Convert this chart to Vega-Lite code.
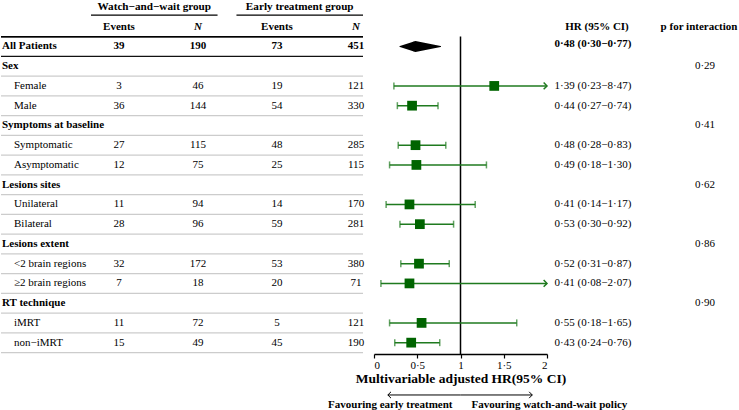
{
  "$schema": "https://vega.github.io/schema/vega-lite/v6.json",
  "padding": 0,
  "autosize": {"type": "pad"},
  "spacing": 11,
  "bounds": "flush",
  "config": {"view": {"stroke": null}, "font": "Liberation Serif", "text": {"font": "Liberation Serif", "color": "black", "fontSize": 11},
    "axisX": {"values": [0, 0.5, 1, 1.5, 2], "labelExpr": "replace(format(datum.value, '~g'), '.', '·')", "grid": false, "tickSize": 4, "tickColor": "black", "domainColor": "black", "domainWidth": 1.5, "tickWidth": 1.2,
      "labelFont": "Liberation Serif", "labelFontSize": 11, "labelColor": "black", "labelPadding": 1,
      "titleFont": "Liberation Serif", "titleFontSize": 13.5, "titleFontWeight": "bold", "titleColor": "black", "titlePadding": 1}},
  "datasets": {
    "rows": [
      {"row": 2, "kind": "overall", "label": "All Patients", "ww_e": 39, "ww_n": 190, "et_e": 73, "et_n": 451, "hr": 0.48, "lo": 0.30, "hi": 0.77, "ci": "0·48 (0·30−0·77)"},
      {"row": 3, "kind": "group", "label": "Sex", "p": "0·29"},
      {"row": 4, "kind": "sub", "label": "Female", "ww_e": 3, "ww_n": 46, "et_e": 19, "et_n": 121, "hr": 1.39, "lo": 0.23, "hi": 8.47, "ci": "1·39 (0·23−8·47)"},
      {"row": 5, "kind": "sub", "label": "Male", "ww_e": 36, "ww_n": 144, "et_e": 54, "et_n": 330, "hr": 0.44, "lo": 0.27, "hi": 0.74, "ci": "0·44 (0·27−0·74)"},
      {"row": 6, "kind": "group", "label": "Symptoms at baseline", "p": "0·41"},
      {"row": 7, "kind": "sub", "label": "Symptomatic", "ww_e": 27, "ww_n": 115, "et_e": 48, "et_n": 285, "hr": 0.48, "lo": 0.28, "hi": 0.83, "ci": "0·48 (0·28−0·83)"},
      {"row": 8, "kind": "sub", "label": "Asymptomatic", "ww_e": 12, "ww_n": 75, "et_e": 25, "et_n": 115, "hr": 0.49, "lo": 0.18, "hi": 1.30, "ci": "0·49 (0·18−1·30)"},
      {"row": 9, "kind": "group", "label": "Lesions sites", "p": "0·62"},
      {"row": 10, "kind": "sub", "label": "Unilateral", "ww_e": 11, "ww_n": 94, "et_e": 14, "et_n": 170, "hr": 0.41, "lo": 0.14, "hi": 1.17, "ci": "0·41 (0·14−1·17)"},
      {"row": 11, "kind": "sub", "label": "Bilateral", "ww_e": 28, "ww_n": 96, "et_e": 59, "et_n": 281, "hr": 0.53, "lo": 0.30, "hi": 0.92, "ci": "0·53 (0·30−0·92)"},
      {"row": 12, "kind": "group", "label": "Lesions extent", "p": "0·86"},
      {"row": 13, "kind": "sub", "label": "<2 brain regions", "ww_e": 32, "ww_n": 172, "et_e": 53, "et_n": 380, "hr": 0.52, "lo": 0.31, "hi": 0.87, "ci": "0·52 (0·31−0·87)"},
      {"row": 14, "kind": "sub", "label": "≥2 brain regions", "ww_e": 7, "ww_n": 18, "et_e": 20, "et_n": 71, "hr": 0.41, "lo": 0.08, "hi": 2.07, "ci": "0·41 (0·08−2·07)"},
      {"row": 15, "kind": "group", "label": "RT technique", "p": "0·90"},
      {"row": 16, "kind": "sub", "label": "iMRT", "ww_e": 11, "ww_n": 72, "et_e": 5, "et_n": 121, "hr": 0.55, "lo": 0.18, "hi": 1.65, "ci": "0·55 (0·18−1·65)"},
      {"row": 17, "kind": "sub", "label": "non−iMRT", "ww_e": 15, "ww_n": 49, "et_e": 45, "et_n": 190, "hr": 0.43, "lo": 0.24, "hi": 0.76, "ci": "0·43 (0·24−0·76)"}
    ],
    "groups": [
      {"row": 0, "grp": "Watch−and−wait group"},
      {"row": 0, "grp": "Early treatment group"}
    ],
    "colheads": [
      {"row": 1, "col": "ww_e", "text": "Events"},
      {"row": 1, "col": "ww_n", "text": "N"},
      {"row": 1, "col": "et_e", "text": "Events"},
      {"row": 1, "col": "et_n", "text": "N"}
    ],
    "rightheads": [
      {"row": 1, "col": "hr", "text": "HR (95% CI)"},
      {"row": 1, "col": "p", "text": "p for interaction"}
    ],
    "notes": [
      {"row": 19.65, "trow": 20.15, "side": "left", "from": 1, "to": 0.16, "text": "Favouring early treatment"},
      {"row": 19.65, "trow": 20.15, "side": "right", "from": 1, "to": 1.83, "text": "Favouring watch-and-wait policy"}
    ]
  },
  "hconcat": [
    {
      "width": 362,
      "height": 352,
      "resolve": {"scale": {"x": "independent"}, "axis": {"x": "independent"}},
      "layer": [
        {
          "data": {"name": "rows"},
          "mark": {"type": "rule", "yOffset": 9.9, "strokeWidth": 1.2},
          "encoding": {
            "y": {"field": "row", "type": "quantitative", "scale": {"domain": [-0.25, 17.575], "reverse": true, "nice": false, "zero": false}, "axis": null},
            "color": {"condition": {"test": "datum.row < 3", "value": "#111111"}, "value": "#cccccc"}
          }
        },
        {
          "data": {"name": "colheads"},
          "mark": {"type": "rule", "yOffset": 9.9, "strokeWidth": 1.3, "color": "black"},
          "encoding": {
            "y": {"field": "row", "type": "quantitative", "axis": null}
          }
        },
        {
          "data": {"name": "rows"},
          "transform": [{"filter": "datum.kind !== 'sub'"}],
          "mark": {"type": "text", "align": "left", "fontWeight": "bold", "dx": -38},
          "encoding": {
            "x": {"datum": "label", "scale": {"type": "point", "padding": 0, "domain": ["label", "ww_e", "ww_n", "et_e", "et_n"], "range": [39, 355]}, "axis": null},
            "y": {"field": "row", "type": "quantitative", "axis": null},
            "text": {"field": "label"}
          }
        },
        {
          "data": {"name": "rows"},
          "transform": [{"filter": "datum.kind === 'sub'"}],
          "mark": {"type": "text", "align": "left", "dx": -26},
          "encoding": {
            "x": {"datum": "label", "scale": {"type": "point", "padding": 0, "domain": ["label", "ww_e", "ww_n", "et_e", "et_n"], "range": [39, 355]}, "axis": null},
            "y": {"field": "row", "type": "quantitative", "axis": null},
            "text": {"field": "label"}
          }
        },
        {
          "data": {"name": "rows"},
          "transform": [{"filter": "datum.kind === 'sub'"}, {"fold": ["ww_e", "ww_n", "et_e", "et_n"], "as": ["col", "val"]}],
          "mark": {"type": "text", "align": "center"},
          "encoding": {
            "x": {"field": "col", "type": "nominal", "scale": {"type": "point", "padding": 0, "domain": ["label", "ww_e", "ww_n", "et_e", "et_n"], "range": [39, 355]}, "axis": null},
            "y": {"field": "row", "type": "quantitative", "axis": null},
            "text": {"field": "val", "type": "nominal"}
          }
        },
        {
          "data": {"name": "rows"},
          "transform": [{"filter": "datum.kind === 'overall'"}, {"fold": ["ww_e", "ww_n", "et_e", "et_n"], "as": ["col", "val"]}],
          "mark": {"type": "text", "align": "center", "fontWeight": "bold"},
          "encoding": {
            "x": {"field": "col", "type": "nominal", "scale": {"type": "point", "padding": 0, "domain": ["label", "ww_e", "ww_n", "et_e", "et_n"], "range": [39, 355]}, "axis": null},
            "y": {"field": "row", "type": "quantitative", "axis": null},
            "text": {"field": "val", "type": "nominal"}
          }
        },
        {
          "data": {"name": "colheads"},
          "transform": [{"filter": "datum.text === 'Events'"}],
          "mark": {"type": "text", "align": "center", "fontWeight": "bold"},
          "encoding": {
            "x": {"field": "col", "type": "nominal", "scale": {"type": "point", "padding": 0, "domain": ["label", "ww_e", "ww_n", "et_e", "et_n"], "range": [39, 355]}, "axis": null},
            "y": {"field": "row", "type": "quantitative", "axis": null},
            "text": {"field": "text"}
          }
        },
        {
          "data": {"name": "colheads"},
          "transform": [{"filter": "datum.text === 'N'"}],
          "mark": {"type": "text", "align": "center", "fontWeight": "bold", "fontStyle": "italic"},
          "encoding": {
            "x": {"field": "col", "type": "nominal", "scale": {"type": "point", "padding": 0, "domain": ["label", "ww_e", "ww_n", "et_e", "et_n"], "range": [39, 355]}, "axis": null},
            "y": {"field": "row", "type": "quantitative", "axis": null},
            "text": {"field": "text"}
          }
        },
        {
          "data": {"name": "groups"},
          "mark": {"type": "text", "align": "center", "fontWeight": "bold", "fontSize": 11.2},
          "encoding": {
            "x": {"field": "grp", "type": "nominal", "scale": {"type": "band", "domain": ["Watch−and−wait group", "Early treatment group"], "range": [90, 362], "paddingInner": 0.13, "paddingOuter": 0}, "axis": null},
            "y": {"field": "row", "type": "quantitative", "axis": null},
            "text": {"field": "grp"}
          }
        },
        {
          "data": {"name": "groups"},
          "mark": {"type": "rect", "color": "black"},
          "encoding": {
            "x": {"field": "grp", "type": "nominal", "scale": {"type": "band", "domain": ["Watch−and−wait group", "Early treatment group"], "range": [90, 362], "paddingInner": 0.13, "paddingOuter": 0}, "axis": null},
            "y": {"datum": 0.38, "axis": null},
            "y2": {"datum": 0.45}
          }
        }
      ]
    },
    {
      "width": 173,
      "height": 352,
      "layer": [
        {
          "data": {"values": [{"ref": 1}]},
          "mark": {"type": "rule", "color": "black", "strokeWidth": 1.5},
          "encoding": {
            "x": {"field": "ref", "type": "quantitative", "scale": {"domain": [0, 2], "clamp": true, "nice": false, "zero": false}, "title": "Multivariable adjusted HR(95% CI)"},
            "y": {"datum": 1.5, "scale": {"domain": [-0.25, 17.575], "reverse": true, "nice": false, "zero": false}, "axis": null},
            "y2": {"datum": 17.575}
          }
        },
        {
          "data": {"name": "rows"},
          "transform": [{"filter": "datum.kind === 'sub'"}],
          "mark": {"type": "rule", "color": "#1f7a1f", "strokeWidth": 1.5},
          "encoding": {
            "x": {"field": "lo", "type": "quantitative", "title": "Multivariable adjusted HR(95% CI)"},
            "x2": {"field": "hi"},
            "y": {"field": "row", "type": "quantitative", "axis": null}
          }
        },
        {
          "data": {"name": "rows"},
          "transform": [{"filter": "datum.kind === 'sub'"}],
          "mark": {"type": "tick", "orient": "vertical", "color": "#1f7a1f", "thickness": 1.5, "size": 7},
          "encoding": {
            "x": {"field": "lo", "type": "quantitative", "title": "Multivariable adjusted HR(95% CI)"},
            "y": {"field": "row", "type": "quantitative", "axis": null}
          }
        },
        {
          "data": {"name": "rows"},
          "transform": [{"filter": "datum.kind === 'sub' && datum.hi <= 2"}],
          "mark": {"type": "tick", "orient": "vertical", "color": "#1f7a1f", "thickness": 1.5, "size": 7},
          "encoding": {
            "x": {"field": "hi", "type": "quantitative", "title": "Multivariable adjusted HR(95% CI)"},
            "y": {"field": "row", "type": "quantitative", "axis": null}
          }
        },
        {
          "data": {"name": "rows"},
          "transform": [{"filter": "datum.kind === 'sub' && datum.hi > 2"}],
          "mark": {"type": "point", "shape": "M -1 -1 L 0 0 L -1 1", "filled": false, "color": "#1f7a1f", "strokeWidth": 1.5, "size": 45, "opacity": 1},
          "encoding": {
            "x": {"field": "hi", "type": "quantitative", "title": "Multivariable adjusted HR(95% CI)"},
            "y": {"field": "row", "type": "quantitative", "axis": null}
          }
        },
        {
          "data": {"name": "rows"},
          "transform": [{"filter": "datum.kind === 'sub'"}],
          "mark": {"type": "point", "shape": "square", "filled": true, "color": "#006400", "size": 95, "opacity": 1},
          "encoding": {
            "x": {"field": "hr", "type": "quantitative", "title": "Multivariable adjusted HR(95% CI)"},
            "y": {"field": "row", "type": "quantitative", "axis": null}
          }
        },
        {
          "data": {"name": "rows"},
          "transform": [{"filter": "datum.kind === 'overall'"}, {"fold": ["lo", "hr", "hi"], "as": ["stat", "val"]}],
          "mark": {"type": "trail", "color": "black"},
          "encoding": {
            "x": {"field": "val", "type": "quantitative", "title": "Multivariable adjusted HR(95% CI)"},
            "y": {"field": "row", "type": "quantitative", "axis": null},
            "size": {"field": "stat", "type": "ordinal", "scale": {"type": "ordinal", "domain": ["lo", "hr", "hi"], "range": [0, 11, 0]}, "legend": null},
            "order": {"field": "val", "type": "quantitative"}
          }
        },
        {
          "data": {"name": "notes"},
          "mark": {"type": "rule", "color": "black", "strokeWidth": 1},
          "encoding": {
            "x": {"field": "from", "type": "quantitative", "title": "Multivariable adjusted HR(95% CI)"},
            "x2": {"field": "to"},
            "y": {"field": "row", "type": "quantitative", "axis": null}
          }
        },
        {
          "data": {"name": "notes"},
          "mark": {"type": "point", "filled": false, "color": "black", "strokeWidth": 1, "size": 40, "opacity": 1},
          "encoding": {
            "x": {"field": "to", "type": "quantitative", "title": "Multivariable adjusted HR(95% CI)"},
            "y": {"field": "row", "type": "quantitative", "axis": null},
            "shape": {"field": "side", "type": "nominal", "scale": {"domain": ["left", "right"], "range": ["M 1 -1 L 0 0 L 1 1", "M -1 -1 L 0 0 L -1 1"]}, "legend": null}
          }
        },
        {
          "data": {"name": "notes"},
          "transform": [{"filter": "datum.side === 'left'"}],
          "mark": {"type": "text", "align": "right", "fontWeight": "bold", "dx": -8},
          "encoding": {
            "x": {"field": "from", "type": "quantitative", "title": "Multivariable adjusted HR(95% CI)"},
            "y": {"field": "trow", "type": "quantitative", "axis": null},
            "text": {"field": "text"}
          }
        },
        {
          "data": {"name": "notes"},
          "transform": [{"filter": "datum.side === 'right'"}],
          "mark": {"type": "text", "align": "left", "fontWeight": "bold", "dx": 11},
          "encoding": {
            "x": {"field": "from", "type": "quantitative", "title": "Multivariable adjusted HR(95% CI)"},
            "y": {"field": "trow", "type": "quantitative", "axis": null},
            "text": {"field": "text"}
          }
        }
      ]
    },
    {
      "width": 182,
      "height": 352,
      "layer": [
        {
          "data": {"name": "rightheads"},
          "mark": {"type": "text", "align": "center", "fontWeight": "bold"},
          "encoding": {
            "x": {"field": "col", "type": "nominal", "scale": {"type": "point", "padding": 0, "domain": ["hr", "p"], "range": [39, 141]}, "axis": null},
            "y": {"field": "row", "type": "quantitative", "scale": {"domain": [-0.25, 17.575], "reverse": true, "nice": false, "zero": false}, "axis": null},
            "text": {"field": "text"}
          }
        },
        {
          "data": {"name": "rows"},
          "transform": [{"filter": "datum.kind === 'sub'"}],
          "mark": {"type": "text", "align": "center", "dx": -4},
          "encoding": {
            "x": {"datum": "hr", "axis": null},
            "y": {"field": "row", "type": "quantitative", "axis": null},
            "text": {"field": "ci"}
          }
        },
        {
          "data": {"name": "rows"},
          "transform": [{"filter": "datum.kind === 'overall'"}, {"calculate": "datum.row - 0.1", "as": "row"}],
          "mark": {"type": "text", "align": "center", "fontWeight": "bold", "dx": -4},
          "encoding": {
            "x": {"datum": "hr", "axis": null},
            "y": {"field": "row", "type": "quantitative", "axis": null},
            "text": {"field": "ci"}
          }
        },
        {
          "data": {"name": "rows"},
          "transform": [{"filter": "datum.kind === 'group'"}],
          "mark": {"type": "text", "align": "center", "dx": 6},
          "encoding": {
            "x": {"datum": "p", "axis": null},
            "y": {"field": "row", "type": "quantitative", "axis": null},
            "text": {"field": "p"}
          }
        }
      ]
    }
  ]
}
